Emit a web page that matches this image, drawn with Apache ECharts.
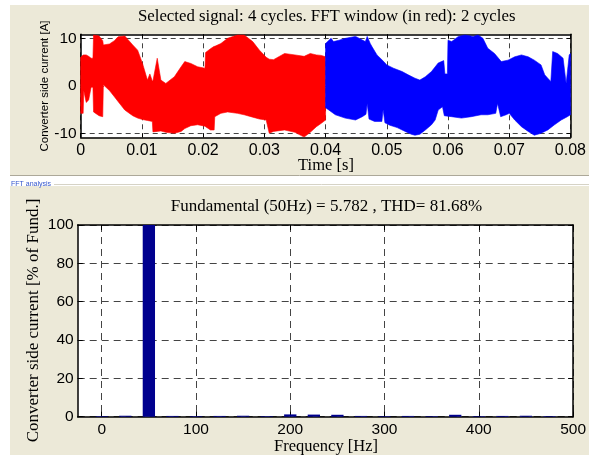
<!DOCTYPE html>
<html>
<head>
<meta charset="utf-8">
<script src="https://cdn.jsdelivr.net/npm/echarts@6/dist/echarts.min.js"></script>
<style>
html,body{margin:0;padding:0;background:#fff;}
#chart{width:589px;height:455px;}
</style>
</head>
<body>
<div id="chart"></div>
<script>
// ---------- DATA ----------
// Selected signal envelope (time in ms, current in A), FFT window part (red, 0-40 ms)
const redTime = [0,0.4,0.5,0.9,1.3,1.7,2.0,2.1,3.0,3.6,3.7,4.7,5.5,6.1,7.2,8.5,9.3,10.1,10.9,11.3,11.7,11.8,12.5,13.1,13.9,15.3,16.4,17.0,18.0,19.1,20.3,20.4,21.2,21.8,21.9,22.9,24.0,25.6,26.7,28.1,29.2,30.3,30.8,31.5,33.3,35.0,36.5,37.5,38.5,39.3,40.0];
const redUpper = [6.0,6.5,6.5,6.5,6.2,5.8,5.8,10.7,10.5,9.5,8.6,8.8,9.5,10.3,10.5,8.6,7.5,4.7,1.2,2.5,1.0,1.0,5.8,1.2,0.5,1.9,4.0,5.1,4.7,4.0,3.7,7.0,7.8,8.3,8.3,8.9,10.0,10.7,10.7,9.3,7.5,6.0,5.6,5.5,6.8,6.5,6.2,6.8,6.5,6.4,6.1];
const redLower = [-5.8,-5.8,-1.0,-3.5,-3.0,-0.3,-0.3,-5.5,-6.3,-6.5,0.2,-1.0,-2.3,-3.3,-5.1,-6.3,-6.8,-7.1,-7.3,-7.4,-7.5,-9.7,-9.6,-9.5,-9.8,-10.0,-9.6,-9.0,-8.4,-8.2,-8.5,-8.6,-9.3,-9.3,-6.5,-5.8,-5.5,-5.8,-6.1,-6.6,-7.0,-7.2,-10.0,-9.6,-9.3,-9.8,-10.8,-9.8,-8.6,-7.9,-7.2];
// remaining part of the signal (blue, 40-80 ms)
const blueTimeUp = [40.0,40.9,41.3,42.2,43.3,44.9,46.5,46.8,47.3,47.6,48.4,49.5,50.0,51.1,52.5,53.5,54.6,55.4,56.3,57.3,58.4,59.3,59.5,59.9,60.0,60.6,61.7,62.8,64.1,64.9,65.7,66.5,67.6,68.7,69.8,70.9,72.0,73.1,74.1,75.2,75.8,76.3,76.8,77.1,77.9,78.8,79.3,79.8,80.0];
const blueUpper = [8.9,10.0,9.3,9.6,10.0,10.4,9.3,10.4,8.9,8.2,6.5,5.1,4.4,3.7,3.0,2.3,1.6,1.2,1.9,3.0,4.8,5.3,2.5,2.5,9.6,9.3,10.4,10.7,10.4,10.7,10.0,7.9,6.8,5.1,5.4,6.1,6.5,6.1,5.4,4.4,2.3,1.6,0.9,7.2,6.8,5.8,0.5,6.5,6.8];
const blueTimeLo = [40.0,41.6,43.2,44.9,46.0,46.6,46.8,47.1,48.0,49.2,49.4,49.7,50.5,51.7,53.0,54.0,54.6,55.4,56.3,57.3,57.9,58.4,59.1,59.4,60.6,62.2,63.8,65.4,66.5,67.8,68.1,68.6,69.5,70.0,70.9,72.0,73.1,74.1,75.2,76.3,77.4,78.5,79.5,80.0];
const blueLower = [-4.6,-6.1,-6.8,-7.2,-6.5,-6.0,-3.7,-7.0,-7.5,-7.5,-5.0,-7.8,-8.3,-8.8,-9.6,-10.2,-10.4,-10.2,-9.3,-8.2,-7.2,-5.1,-4.4,-6.3,-6.5,-6.8,-6.5,-6.1,-6.1,-5.8,-3.7,-6.5,-6.1,-5.8,-7.2,-8.6,-9.6,-10.4,-10.0,-9.3,-8.2,-7.2,-6.5,-6.1];
const timeTicks = [0,0.01,0.02,0.03,0.04,0.05,0.06,0.07,0.08];
const currentTicks = [-10,0,10];

// FFT spectrum (% of fundamental)
const freqs = [0,25,50,75,100,125,150,175,200,225,250,275,300,325,350,375,400,425,450,475];
const mags  = [0.3,0.5,100,0.4,0.3,0.4,0.5,0.3,1.2,1.1,1.0,0.4,0.3,0.4,0.3,1.0,0.3,0.4,0.5,0.3];
const freqTicks = [0,100,200,300,400,500];
const pctTicks = [0,20,40,60,80,100];

const topTitle = 'Selected signal: 4 cycles. FFT window (in red): 2 cycles';
const bottomTitle = 'Fundamental (50Hz) = 5.782 , THD= 81.68%';

// ---------- BUILD ----------
function envelope(tUp, up, tLo, lo) {
  const pts = [];
  for (let i = 0; i < tUp.length; i++) pts.push([tUp[i] / 1000, up[i]]);
  for (let i = tLo.length - 1; i >= 0; i--) pts.push([tLo[i] / 1000, lo[i]]);
  return pts;
}
const redPoly = envelope(redTime, redUpper, redTime, redLower);
const bluePoly = envelope(blueTimeUp, blueUpper, blueTimeLo, blueLower);

function polyRenderer(color) {
  return function (params, api) {
    if (params.dataIndexInside !== 0) return null;
    const n = params.dataInsideLength;
    const points = [];
    for (let i = 0; i < n; i++) points.push(api.coord([api.value(0, i), api.value(1, i)]));
    return {
      type: 'polygon',
      shape: { points: points },
      style: { fill: color, stroke: color, lineWidth: 0.6 }
    };
  };
}

const SANS = '"Liberation Sans", Arial, sans-serif';
const SERIF = '"Liberation Serif", "Times New Roman", serif';
const BEIGE = '#ECE9D8';
const G0 = { left: 80.7, top: 34.3, width: 492, height: 103 };
const G1 = { left: 77.7, top: 225, width: 497.3, height: 191.7 };

function frameAxis(extra) {
  return Object.assign({
    axisLine: { show: true, onZero: false, lineStyle: { color: '#000', width: 1.5 } },
    splitLine: { show: false },
    axisLabel: { show: false }
  }, extra);
}

const option = {
  backgroundColor: '#ffffff',
  animation: false,
  graphic: [
    { type: 'rect', z: -100, shape: { x: 10, y: 5, width: 579, height: 170 }, style: { fill: BEIGE } },
    { type: 'line', z: -99, shape: { x1: 10, y1: 175.5, x2: 589, y2: 175.5 }, style: { stroke: '#ACA899', lineWidth: 1 } },
    { type: 'rect', z: -100, shape: { x: 10, y: 186, width: 579, height: 269 }, style: { fill: BEIGE } },
    { type: 'line', z: -99, shape: { x1: 54, y1: 184.5, x2: 589, y2: 184.5 }, style: { stroke: '#D6D3C6', lineWidth: 1 } },
    { type: 'text', z: 10, style: { text: 'FFT analysis', x: 11, y: 184.5, font: '7px ' + SANS, fill: '#3355CC', textAlign: 'left', textVerticalAlign: 'middle' } },
    { type: 'text', z: 10, style: { text: topTitle, x: 326.7, y: 16.5, font: '16.8px ' + SERIF, fill: '#000', textAlign: 'center', textVerticalAlign: 'middle' } },
    { type: 'text', z: 10, style: { text: 'Time [s]', x: 326, y: 166, font: '16.5px ' + SERIF, fill: '#000', textAlign: 'center', textVerticalAlign: 'middle' } },
    { type: 'text', z: 10, x: 45, y: 86, rotation: Math.PI / 2, style: { text: 'Converter side current [A]', x: 0, y: 0, font: '11.5px ' + SANS, fill: '#000', textAlign: 'center', textVerticalAlign: 'middle' } },
    { type: 'text', z: 10, style: { text: bottomTitle, x: 326.4, y: 207, font: '17px ' + SERIF, fill: '#000', textAlign: 'center', textVerticalAlign: 'middle' } },
    { type: 'text', z: 10, style: { text: 'Frequency [Hz]', x: 326, y: 447, font: '16.5px ' + SERIF, fill: '#000', textAlign: 'center', textVerticalAlign: 'middle' } },
    { type: 'text', z: 10, x: 34, y: 320.5, rotation: Math.PI / 2, style: { text: 'Converter side current [% of Fund.]', x: 0, y: 0, font: '17px ' + SERIF, fill: '#000', textAlign: 'center', textVerticalAlign: 'middle' } }
  ],
  grid: [
    Object.assign({ show: true, backgroundColor: '#fff', borderWidth: 0 }, G0),
    Object.assign({ show: true, backgroundColor: '#fff', borderWidth: 0 }, G1)
  ],
  xAxis: [
    {
      type: 'value', gridIndex: 0, position: 'bottom', min: 0, max: 0.08,
      axisLine: { show: true, onZero: false, lineStyle: { color: '#000', width: 1.5 } },
      axisTick: { show: true, inside: true, length: 4, customValues: timeTicks, lineStyle: { color: '#000' } },
      axisLabel: { show: true, customValues: timeTicks, margin: 5, fontFamily: SANS, fontSize: 16, color: '#000',
        formatter: function (v) { return v === 0 ? '0' : (+v.toFixed(2)).toString(); } },
      splitLine: { show: true, lineStyle: { color: '#444', width: 1, type: [5, 4] } }
    },
    frameAxis({ type: 'value', gridIndex: 0, position: 'top', min: 0, max: 0.08,
      axisTick: { show: true, inside: true, length: 4, customValues: timeTicks, lineStyle: { color: '#000' } } }),
    {
      type: 'value', gridIndex: 1, position: 'bottom', min: -25.5, max: 500,
      axisLine: { show: true, onZero: false, lineStyle: { color: '#000', width: 1.5 } },
      axisTick: { show: true, inside: true, length: 5, customValues: freqTicks, lineStyle: { color: '#000' } },
      axisLabel: { show: true, customValues: freqTicks, margin: 5, fontFamily: SANS, fontSize: 15.5, color: '#000' },
      splitLine: { show: true, lineStyle: { color: '#444', width: 1, type: [7, 5] } }
    },
    frameAxis({ type: 'value', gridIndex: 1, position: 'top', min: -25.5, max: 500,
      axisTick: { show: true, inside: true, length: 5, customValues: freqTicks, lineStyle: { color: '#000' } } })
  ],
  yAxis: [
    {
      type: 'value', gridIndex: 0, position: 'left', min: -10.84, max: 10.84,
      axisLine: { show: true, onZero: false, lineStyle: { color: '#000', width: 1.5 } },
      axisTick: { show: true, inside: true, length: 4, customValues: currentTicks, lineStyle: { color: '#000' } },
      axisLabel: { show: true, customValues: currentTicks, margin: 4, fontFamily: SANS, fontSize: 15.5, color: '#000' },
      splitLine: { show: true, lineStyle: { color: '#444', width: 1, type: [5, 4] } }
    },
    frameAxis({ type: 'value', gridIndex: 0, position: 'right', min: -10.84, max: 10.84,
      axisTick: { show: true, inside: true, length: 4, customValues: currentTicks, lineStyle: { color: '#000' } } }),
    {
      type: 'value', gridIndex: 1, position: 'left', min: 0, max: 100, interval: 20,
      axisLine: { show: true, onZero: false, lineStyle: { color: '#000', width: 1.5 } },
      axisTick: { show: true, inside: true, length: 5, lineStyle: { color: '#000' } },
      axisLabel: { show: true, margin: 4, fontFamily: SANS, fontSize: 15.5, color: '#000' },
      splitLine: { show: true, lineStyle: { color: '#444', width: 1, type: [7, 5] } }
    },
    frameAxis({ type: 'value', gridIndex: 1, position: 'right', min: 0, max: 100, interval: 20,
      axisTick: { show: true, inside: true, length: 5, lineStyle: { color: '#000' } } })
  ],
  series: [
    { type: 'custom', name: 'FFT window', xAxisIndex: 0, yAxisIndex: 0, clip: true, z: 3,
      encode: { x: 0, y: 1 }, data: redPoly, renderItem: polyRenderer('#FF0000') },
    { type: 'custom', name: 'Signal', xAxisIndex: 0, yAxisIndex: 0, clip: true, z: 3,
      encode: { x: 0, y: 1 }, data: bluePoly, renderItem: polyRenderer('#0000FF') },
    { type: 'bar', name: 'Spectrum', xAxisIndex: 2, yAxisIndex: 2, barWidth: 12.3, z: 3, clip: true,
      itemStyle: { color: '#00008F' },
      data: freqs.map(function (f, i) { return [f, mags[i]]; }) }
  ]
};

const chart = echarts.init(document.getElementById('chart'), null, { renderer: 'canvas' });
chart.setOption(option);
</script>
</body>
</html>
